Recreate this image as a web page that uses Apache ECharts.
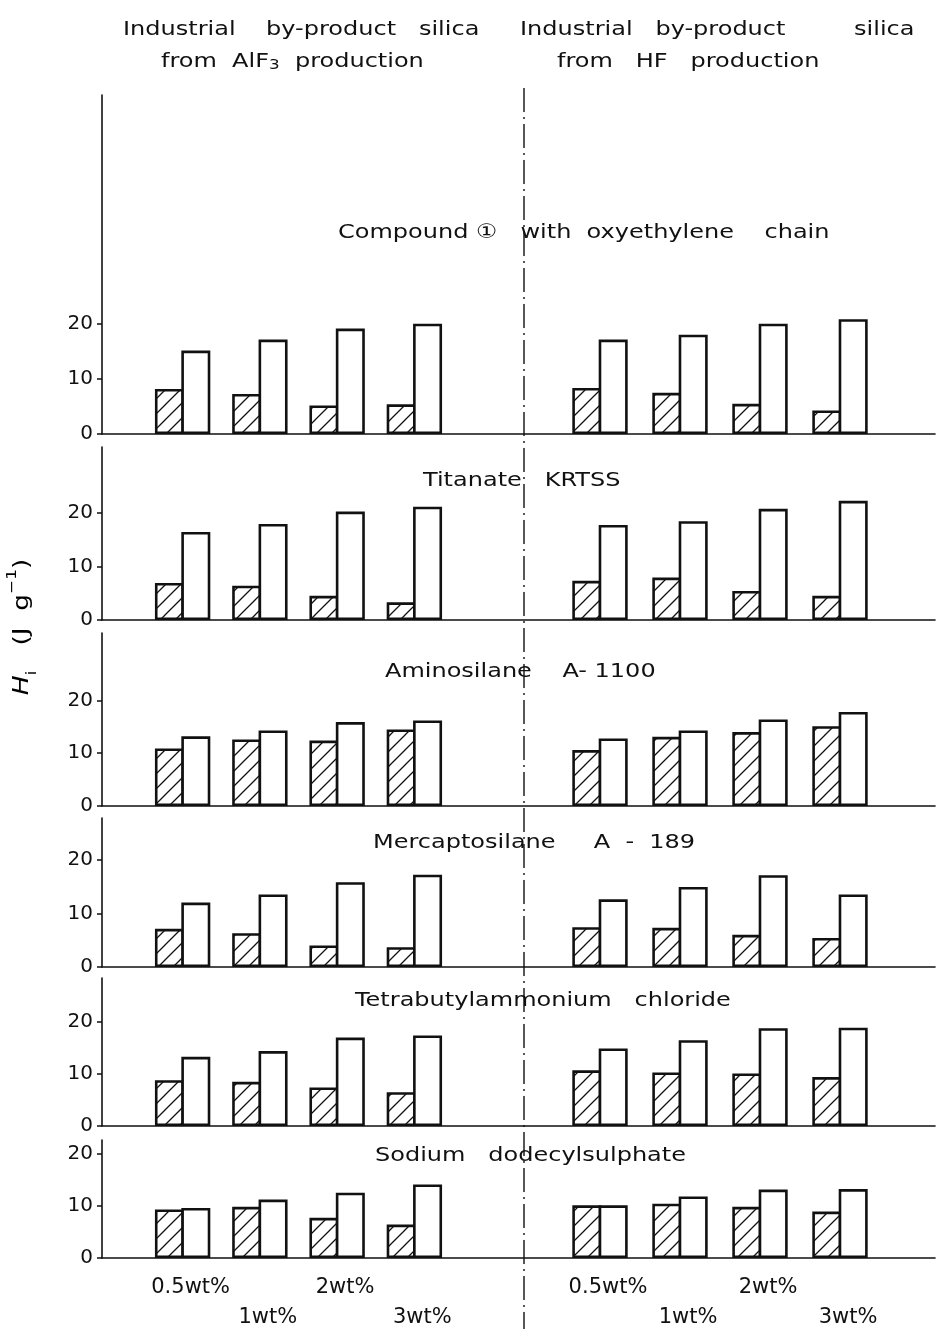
<!DOCTYPE html>
<html><head><meta charset="utf-8">
<script src="https://cdn.jsdelivr.net/npm/echarts@6/dist/echarts.min.js"></script>
<style>html,body{margin:0;padding:0;background:#fff}#c{width:938px;height:1329px}</style>
</head><body><div id="c"></div>
<script>
// ---------- data ----------
const categories = ['0.5wt%', '1wt%', '2wt%', '3wt%'];
const yTickValues = [0, 10, 20];
const panelNames = [
  'Compound \u2460   with  oxyethylene    chain',
  'Titanate   KRTSS',
  'Aminosilane    A- 1100',
  'Mercaptosilane     A  -  189',
  'Tetrabutylammonium   chloride',
  'Sodium   dodecylsulphate'
];
// silica from AlF3 production (left half)
const alf3Hatched = [
  [8.2, 7.3, 5.2, 5.4],
  [6.9, 6.4, 4.5, 3.3],
  [10.9, 12.6, 12.4, 14.5],
  [7.1, 6.3, 4.0, 3.7],
  [8.8, 8.5, 7.4, 6.5],
  [9.3, 9.8, 7.7, 6.4]
];
const alf3Open = [
  [15.2, 17.2, 19.2, 20.1],
  [16.4, 17.9, 20.2, 21.1],
  [13.2, 14.3, 15.9, 16.2],
  [12.0, 13.5, 15.8, 17.2],
  [13.3, 14.4, 17.0, 17.4],
  [9.6, 11.2, 12.5, 14.1]
];
// silica from HF production (right half)
const hfHatched = [
  [8.4, 7.5, 5.5, 4.3],
  [7.3, 7.9, 5.4, 4.5],
  [10.6, 13.1, 14.0, 15.1],
  [7.4, 7.3, 6.0, 5.4],
  [10.7, 10.3, 10.1, 9.4],
  [10.1, 10.4, 9.8, 8.9]
];
const hfOpen = [
  [17.2, 18.1, 20.1, 20.9],
  [17.7, 18.4, 20.7, 22.2],
  [12.8, 14.3, 16.4, 17.8],
  [12.6, 14.9, 17.1, 13.5],
  [14.9, 16.5, 18.8, 18.9],
  [10.1, 11.8, 13.1, 13.2]
];

// ---------- layout ----------
const panelTop  = [95, 447, 633, 818, 978, 1140];
const panelZero = [434, 620, 806, 967, 1126, 1258];
const pxPerUnit = [5.49, 5.37, 5.28, 5.37, 5.2, 5.22];
const titleLeft = [[338, 233], [423, 481], [385, 672], [373, 843], [355, 1001], [375, 1156]];
const FONT = 'DejaVu Sans';
const INK = '#111';
const STRETCH = 1.2;

function hatchPattern() {
  const s = 15;
  const c = document.createElement('canvas');
  c.width = s; c.height = s;
  const g = c.getContext('2d');
  g.fillStyle = '#fff'; g.fillRect(0, 0, s, s);
  g.strokeStyle = INK; g.lineWidth = 1.3;
  g.beginPath();
  g.moveTo(0, s); g.lineTo(s, 0);
  g.moveTo(-3, 3); g.lineTo(3, -3);
  g.moveTo(s - 3, s + 3); g.lineTo(s + 3, s - 3);
  g.stroke();
  return c;
}
const hatch = { image: hatchPattern(), repeat: 'repeat' };

const grid = [], xAxis = [], yAxis = [], series = [];
for (let p = 0; p < 6; p++) {
  const top = panelTop[p], h = panelZero[p] - panelTop[p];
  const maxV = h / pxPerUnit[p];
  const isLast = p === 5;
  grid.push({ left: 102, right: 3, top: top, height: h, outerBoundsMode: 'none', containLabel: false });
  grid.push({ left: 144, width: 309, top: top, height: h, outerBoundsMode: 'none', containLabel: false });
  grid.push({ left: 560, width: 320, top: top, height: h, outerBoundsMode: 'none', containLabel: false });
  const g0 = 3 * p;
  xAxis.push({ gridIndex: g0, type: 'value', min: 0, max: 1,
    axisLine: { show: true, onZero: false, lineStyle: { color: INK, width: 1.6 } },
    axisTick: { show: false }, axisLabel: { show: false }, splitLine: { show: false } });
  yAxis.push({ gridIndex: g0, type: 'value', min: 0, max: maxV, interval: 10,
    axisLine: { show: true, lineStyle: { color: INK, width: 1.6 } },
    axisTick: { show: true, length: 5, customValues: yTickValues, lineStyle: { color: INK, width: 1.5 } },
    axisLabel: { show: true, customValues: yTickValues, margin: 9, color: INK, fontFamily: FONT, fontSize: 20 },
    splitLine: { show: false } });
  for (let k = 1; k <= 2; k++) {
    xAxis.push({ gridIndex: g0 + k, type: 'category', data: categories,
      axisLine: { show: false }, axisTick: { show: false },
      axisLabel: { show: isLast, interval: 0, color: INK, fontFamily: FONT, fontSize: 21, margin: 15,
        lineHeight: 30, padding: [0, 0, 0, 16],
        formatter: (v, i) => (i % 2 ? '\n' + v : v) },
      splitLine: { show: false } });
    yAxis.push({ gridIndex: g0 + k, type: 'value', min: 0, max: maxV, show: false });
  }
  const barCommon = { type: 'bar', barWidth: 29, barGap: '-9%', silent: true, animation: false };
  series.push(Object.assign({}, barCommon, { name: 'AlF3 hatched', xAxisIndex: g0 + 1, yAxisIndex: g0 + 1,
    data: alf3Hatched[p], itemStyle: { color: hatch, borderColor: INK, borderWidth: 2.6 } }));
  series.push(Object.assign({}, barCommon, { name: 'AlF3 open', xAxisIndex: g0 + 1, yAxisIndex: g0 + 1,
    data: alf3Open[p], itemStyle: { color: '#fff', borderColor: INK, borderWidth: 2.6 } }));
  series.push(Object.assign({}, barCommon, { name: 'HF hatched', xAxisIndex: g0 + 2, yAxisIndex: g0 + 2,
    data: hfHatched[p], itemStyle: { color: hatch, borderColor: INK, borderWidth: 2.6 } }));
  series.push(Object.assign({}, barCommon, { name: 'HF open', xAxisIndex: g0 + 2, yAxisIndex: g0 + 2,
    data: hfOpen[p], itemStyle: { color: '#fff', borderColor: INK, borderWidth: 2.6 } }));
}

const textStyle = (extra) => Object.assign({ fill: INK, font: '20px "' + FONT + '"' }, extra);
const subRich = { s: { fontSize: 14, fontFamily: FONT, verticalAlign: 'bottom', lineHeight: 12, color: INK } };
const graphic = [
  { type: 'line', shape: { x1: 524, y1: 88, x2: 524, y2: 1329 }, z: 50,
    style: { stroke: INK, lineWidth: 1.4, lineDash: [24, 5, 2, 5] } },
  { type: 'text', x: 123, y: 30, scaleX: STRETCH, style: textStyle({ text: 'Industrial    by-product   silica', textVerticalAlign: 'middle' }) },
  { type: 'text', x: 161, y: 62, scaleX: STRETCH, style: textStyle({ text: 'from  AlF{s|3}  production', textVerticalAlign: 'middle', rich: subRich }) },
  { type: 'text', x: 520, y: 30, scaleX: STRETCH, style: textStyle({ text: 'Industrial   by-product         silica', textVerticalAlign: 'middle' }) },
  { type: 'text', x: 557, y: 62, scaleX: STRETCH, style: textStyle({ text: 'from   HF   production', textVerticalAlign: 'middle' }) },
  { type: 'text', x: 22, y: 627, rotation: Math.PI / 2, scaleX: STRETCH, style: {
      text: '{h|H}{s|i}{n|   (J  g}{t|\u22121}{n|)}', textAlign: 'center', textVerticalAlign: 'middle',
      rich: {
        h: { fontFamily: FONT, fontSize: 22, fontStyle: 'italic', lineHeight: 34, color: INK },
        n: { fontFamily: FONT, fontSize: 22, lineHeight: 34, color: INK },
        s: { fontFamily: FONT, fontSize: 14, verticalAlign: 'bottom', lineHeight: 14, color: INK },
        t: { fontFamily: FONT, fontSize: 14, verticalAlign: 'top', lineHeight: 14, color: INK }
      } } }
];
for (let p = 0; p < 6; p++) {
  graphic.push({ type: 'text', x: titleLeft[p][0], y: titleLeft[p][1], z: 60, scaleX: STRETCH,
    style: textStyle({ text: panelNames[p], textAlign: 'left', textVerticalAlign: 'middle' }) });
}

const chart = echarts.init(document.getElementById('c'), null, { renderer: 'canvas' });
chart.setOption({
  backgroundColor: '#fff',
  animation: false,
  grid: grid, xAxis: xAxis, yAxis: yAxis, series: series, graphic: graphic
});
</script></body></html>
